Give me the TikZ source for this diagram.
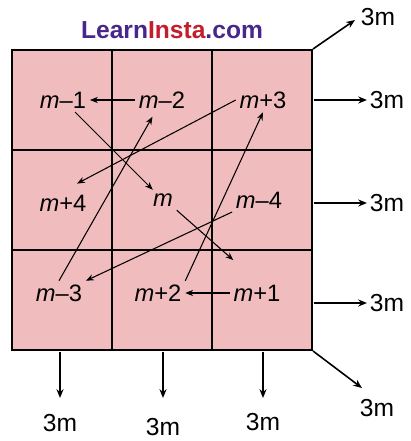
\documentclass[tikz,border=0pt]{standalone}
\usepackage{fontspec}
\setmainfont{Liberation Sans}
\usetikzlibrary{arrows.meta}
\definecolor{cellpink}{RGB}{240,188,190}
\definecolor{learnpurple}{RGB}{72,38,140}
\definecolor{instared}{RGB}{196,30,46}

\begin{document}
\begin{tikzpicture}[x=2cm, y=2cm,
    val/.style={font=\fontsize{13.5}{16}\selectfont, inner sep=2pt},
    sumlabel/.style={font=\fontsize{14}{16}\selectfont, inner sep=1.5pt},
    knight/.style={line width=0.6pt, -{Stealth[length=4.5pt, width=3.5pt]}},
    spread/.style={line width=0.9pt, -{Stealth[length=5pt, width=4pt]}}]
    \useasboundingbox (-0.12,-0.91) rectangle (3.99,3.50);

    % the square
    \fill[cellpink] (0,0) rectangle (3,3);
    \foreach \k in {1,2} {
        \draw[line width=1.1pt] (\k,0) -- (\k,3);
        \draw[line width=1.1pt] (0,\k) -- (3,\k);
    }
    \draw[line width=1.1pt] (0,0) rectangle (3,3);

    \node[font=\fontsize{14}{16}\selectfont\bfseries] (logo) at (1.60,3.20)
        {\textcolor{learnpurple}{Learn}\textcolor{instared}{Insta}\textcolor{learnpurple}{.com}};

    % entries
    \node[val] (mm1) at (0.51,2.50) {\textit{m}–1};
    \node[val] (mm2) at (1.50,2.50) {\textit{m}–2};
    \node[val] (mp3) at (2.51,2.50) {\textit{m}+3};
    \node[val] (mp4) at (0.51,1.47) {\textit{m}+4};
    \node[val] (m0)  at (1.51,1.50) {\textit{m}};
    \node[val] (mm4) at (2.47,1.50) {\textit{m}–4};
    \node[val] (mm3) at (0.47,0.57) {\textit{m}–3};
    \node[val] (mp2) at (1.46,0.57) {\textit{m}+2};
    \node[val] (mp1) at (2.45,0.57) {\textit{m}+1};

    % order of filling
    \draw[knight] (mm4.south west) -- (mm3.north east);
    \draw[knight, shorten >=3pt] (mm3.north) -- (mm2);
    \draw[knight] (mm2.west) -- (mm1.east);
    \draw[knight] (mm1) -- (m0);
    \draw[knight, shorten >=18pt] (m0.south east) -- (mp1.north);
    \draw[knight] (mp1.west) -- (mp2.east);
    \draw[knight] (mp2.north east) -- (mp3.south);
    \draw[knight, shorten >=9pt] (mp3.west) -- (mp4.north);

    % sums
    \foreach \y/\n in {2.50/r1, 1.47/r2, 0.47/r3} {
        \node[sumlabel, anchor=west] (\n) at (3.55,\y) {3m};
        \draw[spread] (3.02,\y) -- (\n.west);
    }
    \foreach \x/\ly/\n in {0.48/-0.73/b1, 1.51/-0.77/b2, 2.51/-0.72/b3} {
        \coordinate (\n tip) at (\x,-0.48);
        \node[sumlabel] (\n) at (\x,\ly) {3m};
        \draw[spread] (\x,-0.02) -- (\n tip);
    }
    \coordinate (dtip) at (3.43,3.30);
    \node[sumlabel] (d1) at (3.66,3.33) {3m};
    \draw[spread] (3.01,3.01) -- (dtip);
    \coordinate (atip) at (3.50,-0.38);
    \node[sumlabel] (d2) at (3.65,-0.58) {3m};
    \draw[spread] (3.01,-0.01) -- (atip);
\end{tikzpicture}
\end{document}
